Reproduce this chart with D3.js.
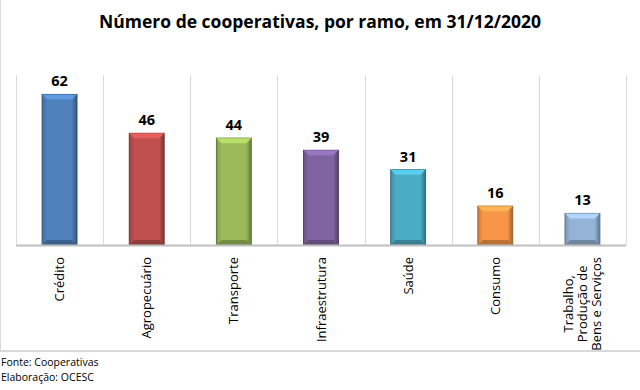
<!DOCTYPE html>
<html>
<head>
<meta charset="utf-8">
<script src="https://cdn.jsdelivr.net/npm/d3@7"></script>
<style>
  body { margin: 0; background: #fff; }
  svg { display: block; font-family: "Open Sans", "Noto Sans", sans-serif; }
</style>
</head>
<body>
<div id="chart-area"></div>
<script>
// Data
let categories = ['Crédito', 'Agropecuário', 'Transporte', 'Infraestrutura', 'Saúde', 'Consumo', 'Trabalho, Produção de Bens e Serviços'];
let labelLines = [['Crédito'], ['Agropecuário'], ['Transporte'], ['Infraestrutura'], ['Saúde'], ['Consumo'], ['Trabalho,', 'Produção de', 'Bens e Serviços']];
let values = [62, 46, 44, 39, 31, 16, 13];
let colors = ['#4f81bd', '#c0504d', '#9bbb59', '#8064a2', '#4bacc6', '#f79646', '#95b3d7'];
let footnotes = ['Fonte: Cooperativas', 'Elaboração: OCESC'];

let W = 640, H = 390;
let plot = { left: 16, right: 626, top: 75, bottom: 245 };

let svg = d3.select('#chart-area').append('svg')
  .attr('width', W).attr('height', H);

// gradients per bar color (darker edges, lighter middle)
let defs = svg.append('defs');
colors.forEach((c, i) => {
  let g = defs.append('linearGradient').attr('id', 'grad' + i)
    .attr('x1', 0).attr('x2', 1).attr('y1', 0).attr('y2', 0);
  g.append('stop').attr('offset', '0%').attr('stop-color', d3.color(c).darker(0.5));
  g.append('stop').attr('offset', '15%').attr('stop-color', c);
  g.append('stop').attr('offset', '85%').attr('stop-color', c);
  g.append('stop').attr('offset', '100%').attr('stop-color', d3.color(c).darker(1.2));
});

// frame (left + bottom border)
svg.append('line').attr('x1', 0.5).attr('x2', 0.5).attr('y1', 0).attr('y2', 351)
  .attr('stroke', '#d9d9d9').attr('stroke-width', 1);
svg.append('line').attr('x1', 0).attr('x2', W).attr('y1', 351).attr('y2', 351)
  .attr('stroke', '#d9d9d9').attr('stroke-width', 2);

// Title
svg.append('text')
  .attr('x', 320).attr('y', 28)
  .attr('text-anchor', 'middle')
  .attr('font-size', 17.5).attr('font-weight', 'bold')
  .attr('fill', '#000')
  .text('Número de cooperativas, por ramo, em 31/12/2020');

// Scales
let x = d3.scaleBand().domain(categories).range([plot.left, plot.right]).paddingInner(0).paddingOuter(0);
let y = d3.scaleLinear().domain([0, 70]).range([plot.bottom, plot.top]);

// vertical grid lines at category boundaries
let bounds = categories.map(c => x(c)).concat([x(categories[categories.length - 1]) + x.bandwidth()]);
svg.append('g').selectAll('line').data(bounds).enter().append('line')
  .attr('x1', d => Math.round(d) + 0.5).attr('x2', d => Math.round(d) + 0.5)
  .attr('y1', plot.top).attr('y2', plot.bottom)
  .attr('stroke', '#d9d9d9').attr('stroke-width', 1);

// bars
let bw = x.bandwidth() * 0.4;
let bev = 5;
let data = categories.map((c, i) => ({ c: c, v: values[i], i: i }));

let bars = svg.append('g').selectAll('g').data(data).enter().append('g');
bars.append('rect')
  .attr('x', d => x(d.c) + (x.bandwidth() - bw) / 2)
  .attr('y', d => y(d.v))
  .attr('width', bw)
  .attr('height', d => y(0) - y(d.v))
  .attr('fill', d => 'url(#grad' + d.i + ')')
  .attr('stroke', d => d3.color(colors[d.i]).darker(1.3))
  .attr('stroke-width', 1);
// top bevel
bars.append('path')
  .attr('d', d => {
    let x0 = x(d.c) + (x.bandwidth() - bw) / 2, x1 = x0 + bw, y0 = y(d.v);
    return 'M' + x0 + ',' + y0 + 'L' + x1 + ',' + y0 + 'L' + (x1 - bev) + ',' + (y0 + bev) +
      'L' + (x0 + bev) + ',' + (y0 + bev) + 'Z';
  })
  .attr('fill', d => d3.color(colors[d.i]).brighter(0.5));
// bottom bevel
bars.append('path')
  .attr('d', d => {
    let x0 = x(d.c) + (x.bandwidth() - bw) / 2, x1 = x0 + bw, y0 = y(0);
    return 'M' + x0 + ',' + y0 + 'L' + x1 + ',' + y0 + 'L' + (x1 - bev) + ',' + (y0 - bev) +
      'L' + (x0 + bev) + ',' + (y0 - bev) + 'Z';
  })
  .attr('fill', d => d3.color(colors[d.i]).darker(0.8));

// value labels
bars.append('text')
  .attr('x', d => x(d.c) + x.bandwidth() / 2)
  .attr('y', d => y(d.v) - 8)
  .attr('text-anchor', 'middle')
  .attr('font-size', 14.5).attr('font-weight', 'bold')
  .attr('fill', '#000')
  .text(d => d.v);

// x axis baseline
svg.append('line')
  .attr('x1', plot.left).attr('x2', plot.right)
  .attr('y1', y(0) + 0.5).attr('y2', y(0) + 0.5)
  .attr('stroke', '#bfbfbf').attr('stroke-width', 2);

// category labels, rotated (lines centred, longest line ends at the top)
let lineH = 14;
let labelTop = 257;
svg.append('g').selectAll('text').data(data).enter().append('text')
  .attr('font-size', 13)
  .attr('fill', '#000')
  .attr('text-anchor', 'middle')
  .each(function(d) {
    let t = d3.select(this);
    labelLines[d.i].forEach((l, k) => {
      t.append('tspan').attr('x', 0).attr('dy', k === 0 ? 0 : lineH).text(l);
    });
    let maxLen = d3.max(t.selectAll('tspan').nodes(), n => n.getComputedTextLength());
    let n = labelLines[d.i].length;
    let cx = x(d.c) + x.bandwidth() / 2 - (n - 1) * lineH / 2 + 4.5;
    t.attr('transform', 'translate(' + cx + ',' + (labelTop + maxLen / 2) + ') rotate(-90)');
  });

// footnotes
svg.append('g').selectAll('text').data(footnotes).enter().append('text')
  .attr('x', 1).attr('y', (d, i) => 366 + i * 15)
  .attr('font-size', 10.5).attr('fill', '#000')
  .text(d => d);
</script>
</body>
</html>
